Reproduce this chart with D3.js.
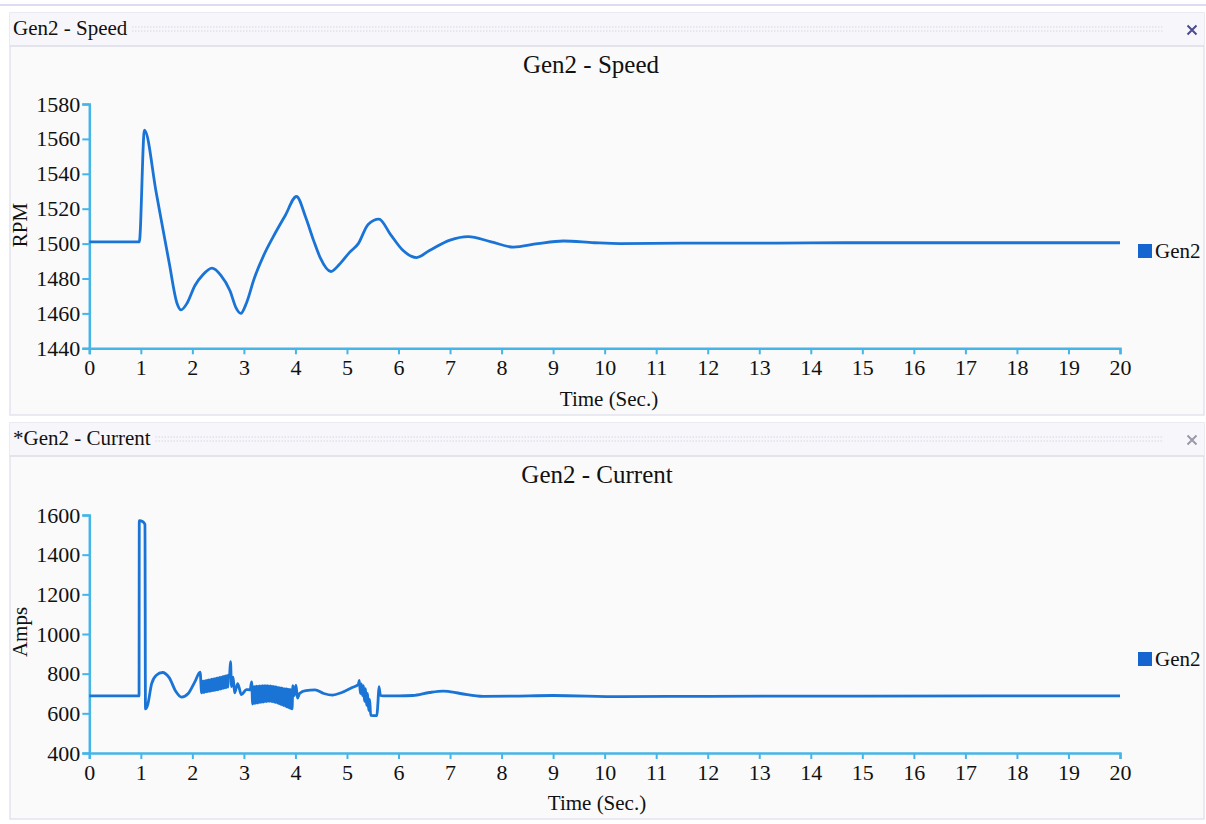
<!DOCTYPE html>
<html>
<head>
<meta charset="utf-8">
<script src="https://cdn.jsdelivr.net/npm/d3@7"></script>
<style>
  body { margin: 0; background: #fff; font-family: "Liberation Serif", "Times New Roman", serif; }
  svg { display: block; }
</style>
</head>
<body>
<svg id="chart" width="1206" height="824"></svg>
<script>
// time axis ticks (seconds)
const timeTicks = [0,1,2,3,4,5,6,7,8,9,10,11,12,13,14,15,16,17,18,19,20];
const rpmTicks = [1440,1460,1480,1500,1520,1540,1560,1580];
const ampTicks = [400,600,800,1000,1200,1400,1600];
const seriesName = "Gen2";

// Gen2 speed, [time, rpm]
const speedPoints = [
  [0,1501],[0.97,1501],[1.07,1565],[1.3,1529],[1.55,1489],[1.7,1466],[1.78,1462],
  [1.9,1466],[2.05,1476],[2.2,1482],[2.38,1486],[2.55,1482],[2.73,1473],[2.85,1463],
  [2.94,1460],[3.05,1466],[3.2,1480],[3.38,1493],[3.57,1504],[3.8,1516],[4.02,1527],
  [4.2,1515],[4.35,1502],[4.48,1492],[4.69,1484],[4.85,1488],[5.05,1495],[5.22,1500],
  [5.41,1511],[5.62,1514],[5.85,1505],[6.09,1496],[6.35,1492],[6.6,1496],[7.0,1502],
  [7.35,1504],[7.8,1501],[8.23,1498],[8.7,1500],[9.2,1501.5],[9.8,1500.5],[10.3,1500],
  [11.5,1500.3],[13,1500.3],[15,1500.5],[20,1500.5]
];

// Gen2 current, [time, amps]
const currentPoints = [
  [0,688],[0.965,688],[0.97,1572],[1.04,1566],[1.08,1552],[1.09,622],[1.13,640],
  [1.21,750],[1.3,792],[1.42,806],[1.55,780],[1.68,710],[1.79,682],[1.92,700],
  [2.05,760],[2.15,808],
  [2.180,703],[2.195,762],[2.210,705],[2.225,764],[2.240,706],[2.255,765],[2.270,708],
  [2.285,767],[2.300,709],[2.315,769],[2.330,711],[2.345,770],[2.360,712],[2.375,772],
  [2.390,714],[2.405,773],[2.420,715],[2.435,775],[2.450,717],[2.465,777],[2.480,718],
  [2.495,779],[2.510,720],[2.525,781],[2.540,722],[2.555,783],[2.570,724],[2.585,785],
  [2.600,726],[2.615,787],[2.630,728],[2.645,789],[2.660,730],[2.675,791],[2.690,732],
  [2.700,793],
  [2.72,790],[2.74,860],[2.76,735],[2.79,782],[2.82,703],[2.88,750],[2.95,694],
  [3.05,720],[3.12,718],[3.15,758],
  [3.170,647],[3.185,735],[3.200,649],[3.215,736],[3.230,650],[3.245,737],[3.260,652],
  [3.275,737],[3.290,653],[3.305,738],[3.320,655],[3.335,738],[3.350,656],[3.365,739],
  [3.380,657],[3.395,739],[3.410,658],[3.425,739],[3.440,659],[3.455,739],[3.470,660],
  [3.485,738],[3.500,660],[3.515,738],[3.530,659],[3.545,737],[3.560,658],[3.575,736],
  [3.590,656],[3.605,734],[3.620,654],[3.635,733],[3.650,651],[3.665,731],[3.680,648],
  [3.695,730],[3.710,645],[3.725,728],[3.740,642],[3.755,727],[3.770,639],[3.785,725],
  [3.800,636],[3.815,724],[3.830,633],[3.845,722],[3.860,630],[3.875,721],[3.890,627],
  [3.905,719],[3.920,624],[3.930,718],[3.935,622],
  [3.95,740],[3.98,690],[4.01,742],[4.04,677],[4.08,700],[4.2,715],[4.38,718],
  [4.55,700],[4.72,692],[4.9,705],[5.1,730],[5.22,745],
  [5.24,766],[5.26,700],[5.28,748],[5.30,690],[5.32,740],[5.34,660],[5.36,725],
  [5.38,640],[5.40,700],[5.42,615],[5.44,670],[5.46,590],[5.58,588],
  [5.6,650],[5.62,734],[5.65,690],[5.7,688],[6.0,688],[6.28,690],[6.6,705],
  [6.87,712],[7.2,700],[7.64,686],[8.2,687],[9.0,690],[10.3,684],[12,686],
  [15,687],[20,688]
];

const axisColor = "#45b5e8";
const lineColor = "#1a74d6";

const panels = [
  { top: 13, height: 402, header: "Gen2 - Speed", title: "Gen2 - Speed",
    titleX: 591, titleY: 73, points: speedPoints, yTicks: rpmTicks,
    yDomain: [1440, 1580], yRange: [348.3, 104], yLabel: "RPM", yLabelY: 225,
    xLabelX: 609, xLabelY: 406, legendY: 251, closeColor: "#4c4c8e" },
  { top: 423, height: 396, header: "*Gen2 - Current", title: "Gen2 - Current",
    titleX: 597, titleY: 483, points: currentPoints, yTicks: ampTicks,
    yDomain: [400, 1600], yRange: [753, 515], yLabel: "Amps", yLabelY: 632,
    xLabelX: 597, xLabelY: 810, legendY: 659, closeColor: "#9a9aa8" }
];

const svg = d3.select("#chart");

svg.append("rect").attr("width", 1206).attr("height", 824).attr("fill", "#fff");
svg.append("line")
  .attr("x1", 0).attr("x2", 1206).attr("y1", 5).attr("y2", 5)
  .attr("stroke", "#dcdcf2").attr("stroke-width", 2);

const x = d3.scaleLinear().domain([0, 20]).range([89.3, 1120]);

panels.forEach(p => {
  const g = svg.append("g");

  // panel frame + header bar
  g.append("rect")
    .attr("x", 10).attr("y", p.top).attr("width", 1194).attr("height", p.height)
    .attr("fill", "#fafafb").attr("stroke", "#e3e3ef").attr("stroke-width", 1.5);
  g.append("rect")
    .attr("x", 10).attr("y", p.top).attr("width", 1194).attr("height", 33)
    .attr("fill", "#f7f7fb");
  g.append("line")
    .attr("x1", 10).attr("x2", 1204).attr("y1", p.top + 33).attr("y2", p.top + 33)
    .attr("stroke", "#dddde9").attr("stroke-width", 1.5);

  const headerText = g.append("text")
    .attr("x", 13).attr("y", p.top + 22)
    .attr("font-size", 21).attr("fill", "#111")
    .text(p.header);
  const hw = headerText.node().getComputedTextLength();

  [p.top + 14, p.top + 18].forEach(yy => {
    g.append("line")
      .attr("x1", 13 + hw + 5).attr("x2", 1163).attr("y1", yy).attr("y2", yy)
      .attr("stroke", "#c6c6d6").attr("stroke-width", 1)
      .attr("stroke-dasharray", "1,2");
  });

  const cy = p.top + 17, cx = 1192, r = 4.5;
  g.append("path")
    .attr("d", `M${cx - r},${cy - r}L${cx + r},${cy + r}M${cx + r},${cy - r}L${cx - r},${cy + r}`)
    .attr("stroke", p.closeColor).attr("stroke-width", 2).attr("fill", "none");

  // chart title
  g.append("text")
    .attr("x", p.titleX).attr("y", p.titleY).attr("text-anchor", "middle")
    .attr("font-size", 25).attr("fill", "#111")
    .text(p.title);

  const y = d3.scaleLinear().domain(p.yDomain).range(p.yRange);

  const xAxis = g.append("g")
    .attr("transform", `translate(0,${p.yRange[0]})`)
    .call(d3.axisBottom(x).tickValues(timeTicks).tickSize(6).tickPadding(5).tickFormat(d3.format("d")));
  const yAxis = g.append("g")
    .attr("transform", `translate(${x(0)},0)`)
    .call(d3.axisLeft(y).tickValues(p.yTicks).tickSize(7).tickPadding(2).tickFormat(d3.format("d")));

  [xAxis, yAxis].forEach(a => {
    a.select(".domain").attr("stroke", axisColor).attr("stroke-width", 2.5);
    a.selectAll(".tick line").attr("stroke", axisColor).attr("stroke-width", 2);
    a.selectAll(".tick text")
      .attr("font-family", "Liberation Serif, serif")
      .attr("font-size", 22).attr("fill", "#111");
  });

  // axis titles
  g.append("text")
    .attr("x", p.xLabelX).attr("y", p.xLabelY).attr("text-anchor", "middle")
    .attr("font-size", 21).attr("fill", "#111")
    .text("Time (Sec.)");
  g.append("text")
    .attr("transform", `translate(27,${p.yLabelY}) rotate(-90)`)
    .attr("text-anchor", "middle")
    .attr("font-size", 21).attr("fill", "#111")
    .text(p.yLabel);

  // series line
  const line = d3.line()
    .x(d => x(d[0]))
    .y(d => y(d[1]))
    .curve(d3.curveMonotoneX);

  g.append("path")
    .datum(p.points)
    .attr("d", line)
    .attr("fill", "none")
    .attr("stroke", lineColor)
    .attr("stroke-width", 2.8)
    .attr("stroke-linejoin", "round");

  // legend
  g.append("rect")
    .attr("x", 1138).attr("y", p.legendY - 7).attr("width", 14).attr("height", 14)
    .attr("fill", "#1565d0");
  g.append("text")
    .attr("x", 1155).attr("y", p.legendY + 7)
    .attr("font-size", 21).attr("fill", "#111")
    .text(seriesName);
});
</script>
</body>
</html>
